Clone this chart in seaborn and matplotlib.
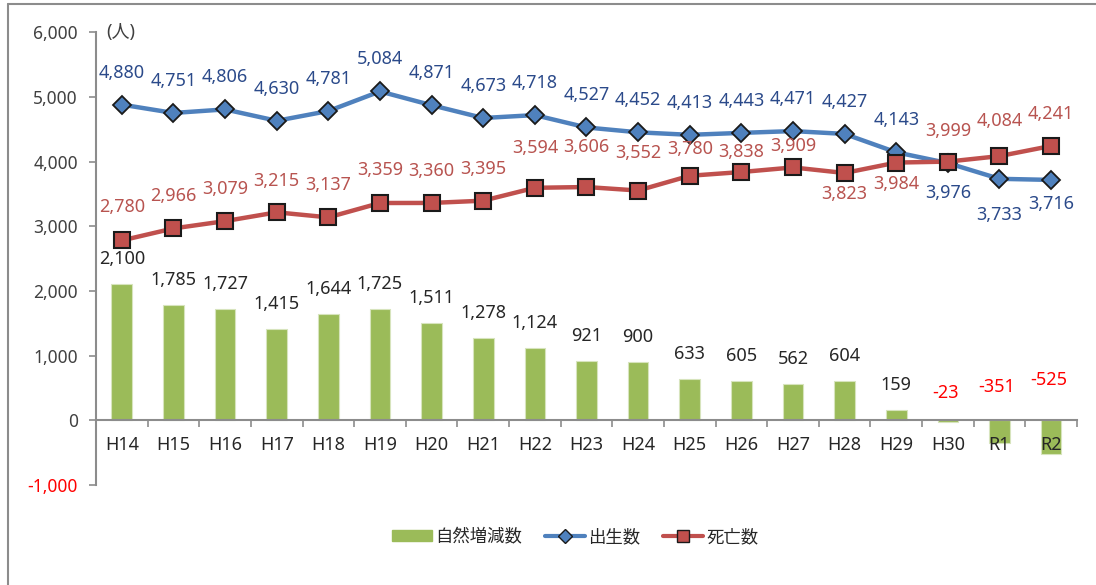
import numpy as np
import pandas as pd
import seaborn as sns
import matplotlib.pyplot as plt
from matplotlib.patches import Patch
from matplotlib.lines import Line2D

years = ["H14", "H15", "H16", "H17", "H18", "H19", "H20", "H21", "H22", "H23",
         "H24", "H25", "H26", "H27", "H28", "H29", "H30", "R1", "R2"]
births = [4880, 4751, 4806, 4630, 4781, 5084, 4871, 4673, 4718, 4527,
          4452, 4413, 4443, 4471, 4427, 4143, 3976, 3733, 3716]
deaths = [2780, 2966, 3079, 3215, 3137, 3359, 3360, 3395, 3594, 3606,
          3552, 3780, 3838, 3909, 3823, 3984, 3999, 4084, 4241]
natural = [2100, 1785, 1727, 1415, 1644, 1725, 1511, 1278, 1124, 921,
           900, 633, 605, 562, 604, 159, -23, -351, -525]

# vertical label offsets in pixels (positive = above the point)
births_off = [32] * 16 + [-30, -36, -24]
deaths_off = [33, 32, 32, 31, 32, 33, 32, 32, 40, 40, 38, 27, 20, 21, -21, -21, 31, 35, 32]
neg_off = {16: 27, 17: 33, 18: 40}

df = pd.DataFrame({"year": years, "births": births, "deaths": deaths, "natural": natural})

sns.set_theme(style="white")
plt.rcParams["font.family"] = ["Noto Sans", "Noto Sans CJK JP", "DejaVu Sans"]

GREEN = "#9BBB59"
BLUE = "#4F81BD"
RED = "#C0504D"
GRAY = "#8C8C8C"
PX = 72 / 100  # pixels -> points
FS = 13

fig = plt.figure(figsize=(10.96, 5.85), dpi=100)
ax = fig.add_axes([0.0876, 0.171, 0.895, 0.774])

sns.barplot(data=df, x="year", y="natural", order=years, color=GREEN, width=0.4,
            saturation=1, edgecolor="#D7E4BD", linewidth=0.8, ax=ax, zorder=2)
sns.pointplot(data=df, x="year", y="births", order=years, color=BLUE, markers="D",
              markersize=9, markeredgecolor="#1A1A1A", markeredgewidth=1.3,
              linewidth=3.2, ax=ax, zorder=3)
sns.pointplot(data=df, x="year", y="deaths", order=years, color=RED, markers="s",
              markersize=12, markeredgecolor="#1A1A1A", markeredgewidth=1.5,
              linewidth=3.2, ax=ax, zorder=4)

for i, (b, o) in enumerate(zip(births, births_off)):
    ax.annotate(f"{b:,}", (i, b), xytext=(0, o * PX), textcoords="offset points",
                ha="center", va="center", fontsize=FS, color="#2B4A8A", zorder=6)
for i, (d, o) in enumerate(zip(deaths, deaths_off)):
    ax.annotate(f"{d:,}", (i, d), xytext=(0, o * PX), textcoords="offset points",
                ha="center", va="center", fontsize=FS, color="#B85450", zorder=6)
for i, v in enumerate(natural):
    if v >= 0:
        ax.annotate(f"{v:,}", (i, v), xytext=(0, 25 * PX), textcoords="offset points",
                    ha="center", va="center", fontsize=FS, color="#262626", zorder=6)
    else:
        ax.annotate(f"{v:,}", (i, 0), xytext=(-2, neg_off[i] * PX), textcoords="offset points",
                    ha="center", va="center", fontsize=FS, color="#FF0000", zorder=6)

ax.set_ylim(-1000, 6000)
ax.set_xlim(-0.5, len(years) - 0.5)
ax.set_yticks(range(-1000, 6001, 1000))
ax.set_yticklabels([f"{t:,}" for t in range(-1000, 6001, 1000)])
for lbl in ax.get_yticklabels():
    lbl.set_color("#FF0000" if lbl.get_text().startswith("-") else "#404040")
ax.set_xlabel("")
ax.set_ylabel("")

for s in ["top", "right"]:
    ax.spines[s].set_visible(False)
ax.spines["left"].set_color(GRAY)
ax.spines["left"].set_linewidth(1.5)
ax.spines["bottom"].set_position(("data", 0))
ax.spines["bottom"].set_color(GRAY)
ax.spines["bottom"].set_linewidth(1.5)
ax.set_axisbelow(False)  # tick labels R1/R2 sit on top of the negative bars

ax.tick_params(axis="y", which="major", length=5, width=1.2, color=GRAY,
               labelsize=12.5, pad=8, left=True)
ax.tick_params(axis="x", which="major", length=0, labelsize=FS, labelcolor="#262626", pad=11)
ax.set_xticks(np.arange(-0.5, len(years), 1), minor=True)
ax.tick_params(axis="x", which="minor", length=5, width=1.2, color=GRAY, bottom=True)
ax.grid(False)

ax.text(0.01, 1.0, "(人)", transform=ax.transAxes, fontsize=FS, color="#404040",
        ha="left", va="center")

handles = [
    Patch(facecolor=GREEN, edgecolor=GREEN),
    Line2D([], [], color=BLUE, linewidth=3, marker="D", markersize=7,
           markerfacecolor=BLUE, markeredgecolor="#1A1A1A"),
    Line2D([], [], color=RED, linewidth=3, marker="s", markersize=9,
           markerfacecolor=RED, markeredgecolor="#1A1A1A"),
]
fig.legend(handles, ["自然増減数", "出生数", "死亡数"], loc="center",
           bbox_to_anchor=(0.525, 0.082), ncol=3, frameon=False,
           prop={"family": ["Noto Sans CJK JP"], "size": 12.5},
           handlelength=2.3, handleheight=0.6, handletextpad=0.2, columnspacing=1.3)

# outer chart frame
fig.add_artist(Line2D([8 / 1096, 8 / 1096], [0, 1 - 4 / 585], color=GRAY, linewidth=1.5,
                      transform=fig.transFigure))
fig.add_artist(Line2D([8 / 1096, 1], [1 - 4 / 585, 1 - 4 / 585], color=GRAY, linewidth=1.5,
                      transform=fig.transFigure))

fig.savefig("out.png", dpi=100)
